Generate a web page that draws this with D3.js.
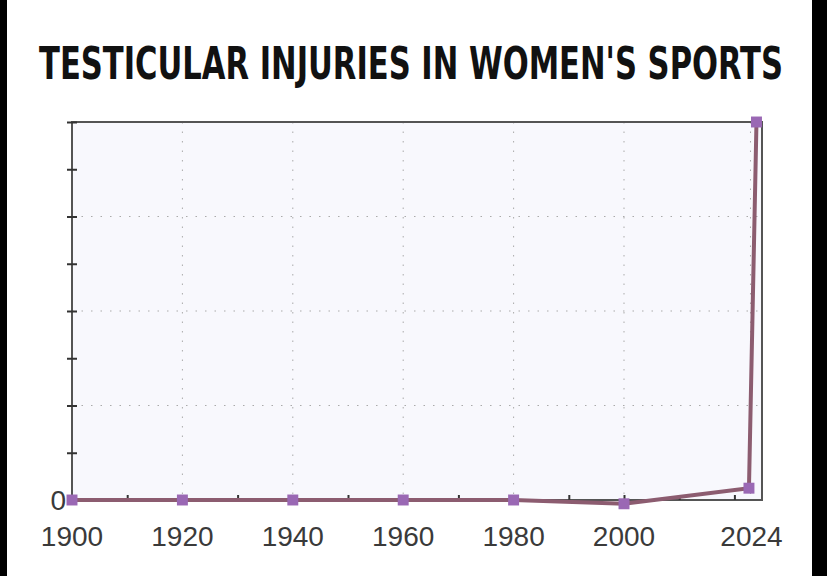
<!DOCTYPE html>
<html>
<head>
<meta charset="utf-8">
<script src="https://cdn.jsdelivr.net/npm/d3@7"></script>
<style>
  body { margin: 0; background: #000; }
  svg { display: block; }
</style>
</head>
<body>
<div class="canvas"></div>
<script>
// data
const years = [1900, 1920, 1940, 1960, 1980, 2000, 2023, 2024];
const injuries = [0, 0, 0, 0, 0, -0.08, 0.25, 8];
const xTickLabels = [1900, 1920, 1940, 1960, 1980, 2000, 2024];
const title = "TESTICULAR INJURIES IN WOMEN'S SPORTS";

const svg = d3.select('.canvas')
  .append('svg')
  .attr('width', 827)
  .attr('height', 576);

// white card with black edges on the sides
svg.append('rect').attr('x', 7).attr('y', 0).attr('width', 805).attr('height', 576).attr('fill', '#fff');

// title is tall and condensed: stretch it vertically around its baseline
const titleText = svg.append('g')
  .attr('transform', 'translate(411,79) scale(1,1.3)')
  .append('text')
  .attr('text-anchor', 'middle')
  .attr('font-family', "'DejaVu Sans Condensed', 'Liberation Sans Narrow', sans-serif")
  .attr('font-weight', 'bold')
  .attr('font-size', 40)
  .attr('fill', '#111')
  .text(title);
const tw = titleText.node().getComputedTextLength();
if (tw > 744) titleText.attr('font-size', 40 * 744 / tw);

const margin = {top: 122, right: 65, bottom: 76, left: 72};
const graphWidth = 827 - margin.left - margin.right;
const graphHeight = 576 - margin.top - margin.bottom;

const graph = svg.append('g')
  .attr('transform', `translate(${margin.left},${margin.top})`);

const x = d3.scaleLinear().domain([1900, 2025]).range([0, graphWidth]);
const y = d3.scaleLinear().domain([0, 8]).range([graphHeight, 0]);

graph.append('rect')
  .attr('width', graphWidth).attr('height', graphHeight)
  .attr('fill', '#f8f8fd');

// dotted grid
graph.selectAll('.vgrid')
  .data(xTickLabels.slice(1))
  .enter().append('line')
  .attr('x1', d => x(d) - (d === 2024 ? 6 : 0)).attr('x2', d => x(d) - (d === 2024 ? 6 : 0))
  .attr('y1', 0).attr('y2', graphHeight)
  .attr('stroke', '#aaa').attr('stroke-dasharray', '1.5,8');

graph.selectAll('.hgrid')
  .data([2, 4, 6])
  .enter().append('line')
  .attr('x1', 0).attr('x2', graphWidth)
  .attr('y1', d => y(d)).attr('y2', d => y(d))
  .attr('stroke', '#aaa').attr('stroke-dasharray', '1.5,8');

// frame
graph.append('rect')
  .attr('width', graphWidth).attr('height', graphHeight)
  .attr('fill', 'none').attr('stroke', '#555').attr('stroke-width', 2);

// axes
const xAxis = d3.axisBottom(x)
  .tickValues(d3.range(1900, 2030, 10))
  .tickSize(-5).tickFormat('');
const yAxis = d3.axisLeft(y)
  .ticks(8).tickSize(10).tickFormat('');

graph.append('g')
  .attr('transform', `translate(0,${graphHeight})`)
  .call(xAxis)
  .call(g => g.select('.domain').remove())
  .selectAll('line').attr('stroke', '#333').attr('stroke-width', 2);

graph.append('g')
  .attr('transform', 'translate(5,0)')
  .call(yAxis)
  .call(g => g.select('.domain').remove())
  .selectAll('line').attr('stroke', '#333').attr('stroke-width', 2);

graph.selectAll('.xlab')
  .data(xTickLabels)
  .enter().append('text')
  .attr('x', d => x(d) - (d === 2024 ? 5 : 0))
  .attr('y', graphHeight + 46)
  .attr('text-anchor', 'middle')
  .attr('font-family', 'Liberation Sans, Arial, sans-serif')
  .attr('font-size', 28)
  .attr('fill', '#3a3a3a')
  .text(d => d);

graph.append('text')
  .attr('x', -6).attr('y', graphHeight + 10)
  .attr('text-anchor', 'end')
  .attr('font-family', 'Liberation Sans, Arial, sans-serif')
  .attr('font-size', 28)
  .attr('fill', '#3a3a3a')
  .text('0');

// line and markers
const pts = years.map((d, i) => ({year: d, v: injuries[i]}));
const line = d3.line().x(d => x(d.year) - (d.year === 2023 ? 2 : 0)).y(d => y(d.v));

graph.append('path')
  .datum(pts)
  .attr('fill', 'none')
  .attr('stroke', '#8c5c70')
  .attr('stroke-width', 4)
  .attr('d', line);

graph.selectAll('.pt')
  .data(pts)
  .enter().append('path')
  .attr('transform', d => `translate(${x(d.year) - (d.year === 2023 ? 2 : 0)},${y(d.v)})`)
  .attr('d', d3.symbol(d3.symbolSquare, 120))
  .attr('fill', '#9a68b4');
</script>
</body>
</html>
